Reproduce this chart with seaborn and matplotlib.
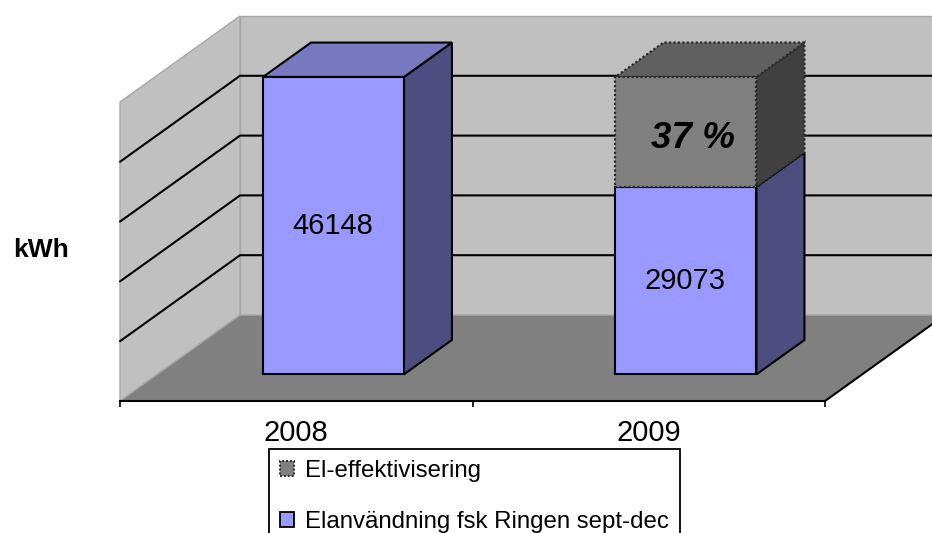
import numpy as np
import seaborn as sns
import matplotlib.pyplot as plt
from matplotlib.patches import Patch, Polygon

years = ['2008', '2009']
usage = [46148, 29073]  # kWh, Elanvändning fsk Ringen sept-dec
saving = [0, 17075]  # kWh, El-effektivisering
percent_label = '37 %'
legend_labels = ['El-effektivisering', 'Elanvändning fsk Ringen sept-dec']
y_top = 46400  # top of the walls
n_grid = 5

sns.set_theme(style='white')
plt.rcParams['font.family'] = ['Liberation Sans', 'DejaVu Sans']

W, H = 932, 533
fig = plt.figure(figsize=(W / 100, H / 100), dpi=100)
ax = fig.add_axes([120 / W, (H - 401) / H, 705 / W, 299 / H])

# depth direction of the fake 3D box, in data units per full floor depth
depth_x = 120 / 352.5
depth_v = 86 / 299 * y_top
bar_front = 0.31
bar_back = 0.71
line_w = 1.5


def proj(x, v, d):
    return (x + d * depth_x, v + d * depth_v)


def face(points, color, zorder, edge='none', lw=1.0, ls='-'):
    ax.add_patch(Polygon(points, closed=True, facecolor=color, edgecolor=edge, lw=lw, ls=ls,
                         zorder=zorder, clip_on=False, joinstyle='miter'))


# walls and floor
x0, x1 = -0.5, 1.5
wall_edge = '#a8a8a8'
face([proj(x0, 0, 1), proj(x1, 0, 1), proj(x1, y_top, 1), proj(x0, y_top, 1)], '#c0c0c0', 0.1, wall_edge, 1.0)
face([proj(x0, 0, 0), proj(x0, 0, 1), proj(x0, y_top, 1), proj(x0, y_top, 0)], '#c0c0c0', 0.2, wall_edge, 1.0)
face([proj(x0, 0, 0), proj(x1, 0, 0), proj(x1, 0, 1), proj(x0, 0, 1)], '#808080', 0.3, wall_edge, 1.0)

# gridlines on both walls
for v in np.linspace(0, y_top, n_grid + 1)[1:-1]:
    pts = [proj(x0, v, 0), proj(x0, v, 1), proj(x1, v, 1)]
    ax.plot([p[0] for p in pts], [p[1] for p in pts], color='black', lw=line_w, zorder=0.4,
            clip_on=False, solid_joinstyle='miter')

# floor right edge
pts = [proj(x1, 0, 0), proj(x1, 0, 1)]
ax.plot([p[0] for p in pts], [p[1] for p in pts], color='black', lw=line_w, zorder=0.4, clip_on=False)

# front faces
blue_edge = dict(edgecolor='black', linewidth=line_w)
gray_edge = dict(edgecolor='#2a2a2a', linewidth=1.6, linestyle=(0, (1, 1)))
sns.barplot(x=years, y=usage, color='#9999ff', saturation=1, width=0.4, ax=ax, zorder=2, **blue_edge)
sns.barplot(x=years, y=saving, color='#808080', saturation=1, width=0.4, ax=ax, zorder=2.1, **gray_edge)
usage_bars, saving_bars = ax.containers[0], ax.containers[1]

for bar in usage_bars:
    bar.set_x(bar.get_x() + bar_front * depth_x)
    bar.set_y(bar_front * depth_v)
    bar.set_clip_on(False)
for bar, base, val in zip(saving_bars, usage, saving):
    bar.set_x(bar.get_x() + bar_front * depth_x)
    bar.set_y(base + bar_front * depth_v)
    bar.set_visible(val > 0)
    bar.set_clip_on(False)

# side and top faces
half = 0.2
for i in range(len(years)):
    left, right = i - half, i + half
    use, sav = usage[i], saving[i]
    face([proj(right, 0, bar_front), proj(right, 0, bar_back), proj(right, use, bar_back), proj(right, use, bar_front)],
         '#4d4d80', 1.5, 'black', line_w)
    if sav > 0:
        top = use + sav
        face([proj(right, use, bar_front), proj(right, use, bar_back), proj(right, top, bar_back), proj(right, top, bar_front)],
             '#404040', 1.6, '#2a2a2a', 1.6, (0, (1, 1)))
        face([proj(left, top, bar_front), proj(right, top, bar_front), proj(right, top, bar_back), proj(left, top, bar_back)],
             '#606060', 1.6, '#2a2a2a', 1.6, (0, (1, 1)))
    else:
        face([proj(left, use, bar_front), proj(right, use, bar_front), proj(right, use, bar_back), proj(left, use, bar_back)],
             '#7878c0', 1.5, 'black', line_w)

# value labels
for i, v in enumerate(usage):
    lx, ly = proj(i, v / 2, bar_front)
    ax.annotate(str(v), (lx, ly), xytext=(-0.5, 0), textcoords='offset points', ha='center', va='center',
                fontsize=21, color='black', zorder=3, annotation_clip=False)
cx, cy = proj(1, usage[1] + saving[1] / 2, bar_front)
ax.annotate(percent_label, (cx, cy), xytext=(5, -5), textcoords='offset points', ha='center', va='center',
            fontsize=26.5, fontweight='bold', fontstyle='italic', color='black', zorder=3, annotation_clip=False)

# axes
ax.set_xlim(x0, x1)
ax.set_ylim(0, y_top)
ax.patch.set_visible(False)
for s in ['top', 'left', 'right']:
    ax.spines[s].set_visible(False)
ax.spines['bottom'].set_color('black')
ax.spines['bottom'].set_linewidth(line_w)
ax.spines['bottom'].set_zorder(0.5)
ax.set_yticks([])
ax.set_xticks([0, 1], years)
ax.set_xticks([-0.5, 0.5, 1.5], minor=True)
ax.tick_params(axis='x', which='major', length=0, pad=13, labelsize=21, labelcolor='black')
ax.tick_params(axis='x', which='minor', length=4.5, width=1.2, color='black', bottom=True)
ax.set_ylabel('kWh', rotation=0, fontsize=19, fontweight='bold', color='black', ha='center', va='center')
ax.yaxis.set_label_coords(-0.112, 0.505)

# legend runs off the bottom of the picture like in the original
handles = [Patch(facecolor='#808080', edgecolor='#2a2a2a', lw=1.4, ls=(0, (1, 1))),
           Patch(facecolor='#9999ff', edgecolor='black', lw=1.3)]
leg = fig.legend(handles, legend_labels, loc='upper left', bbox_to_anchor=(269 / W, (H - 449) / H),
                 borderaxespad=0, fontsize=17.3, fancybox=False, framealpha=1, edgecolor='black',
                 labelspacing=1.2, handlelength=0.6, handleheight=0.6, handletextpad=0.45, borderpad=0.45)
leg.get_frame().set_linewidth(1.3)
for t in leg.get_texts():
    t.set_color('black')

fig.savefig('out.png', dpi=100)
